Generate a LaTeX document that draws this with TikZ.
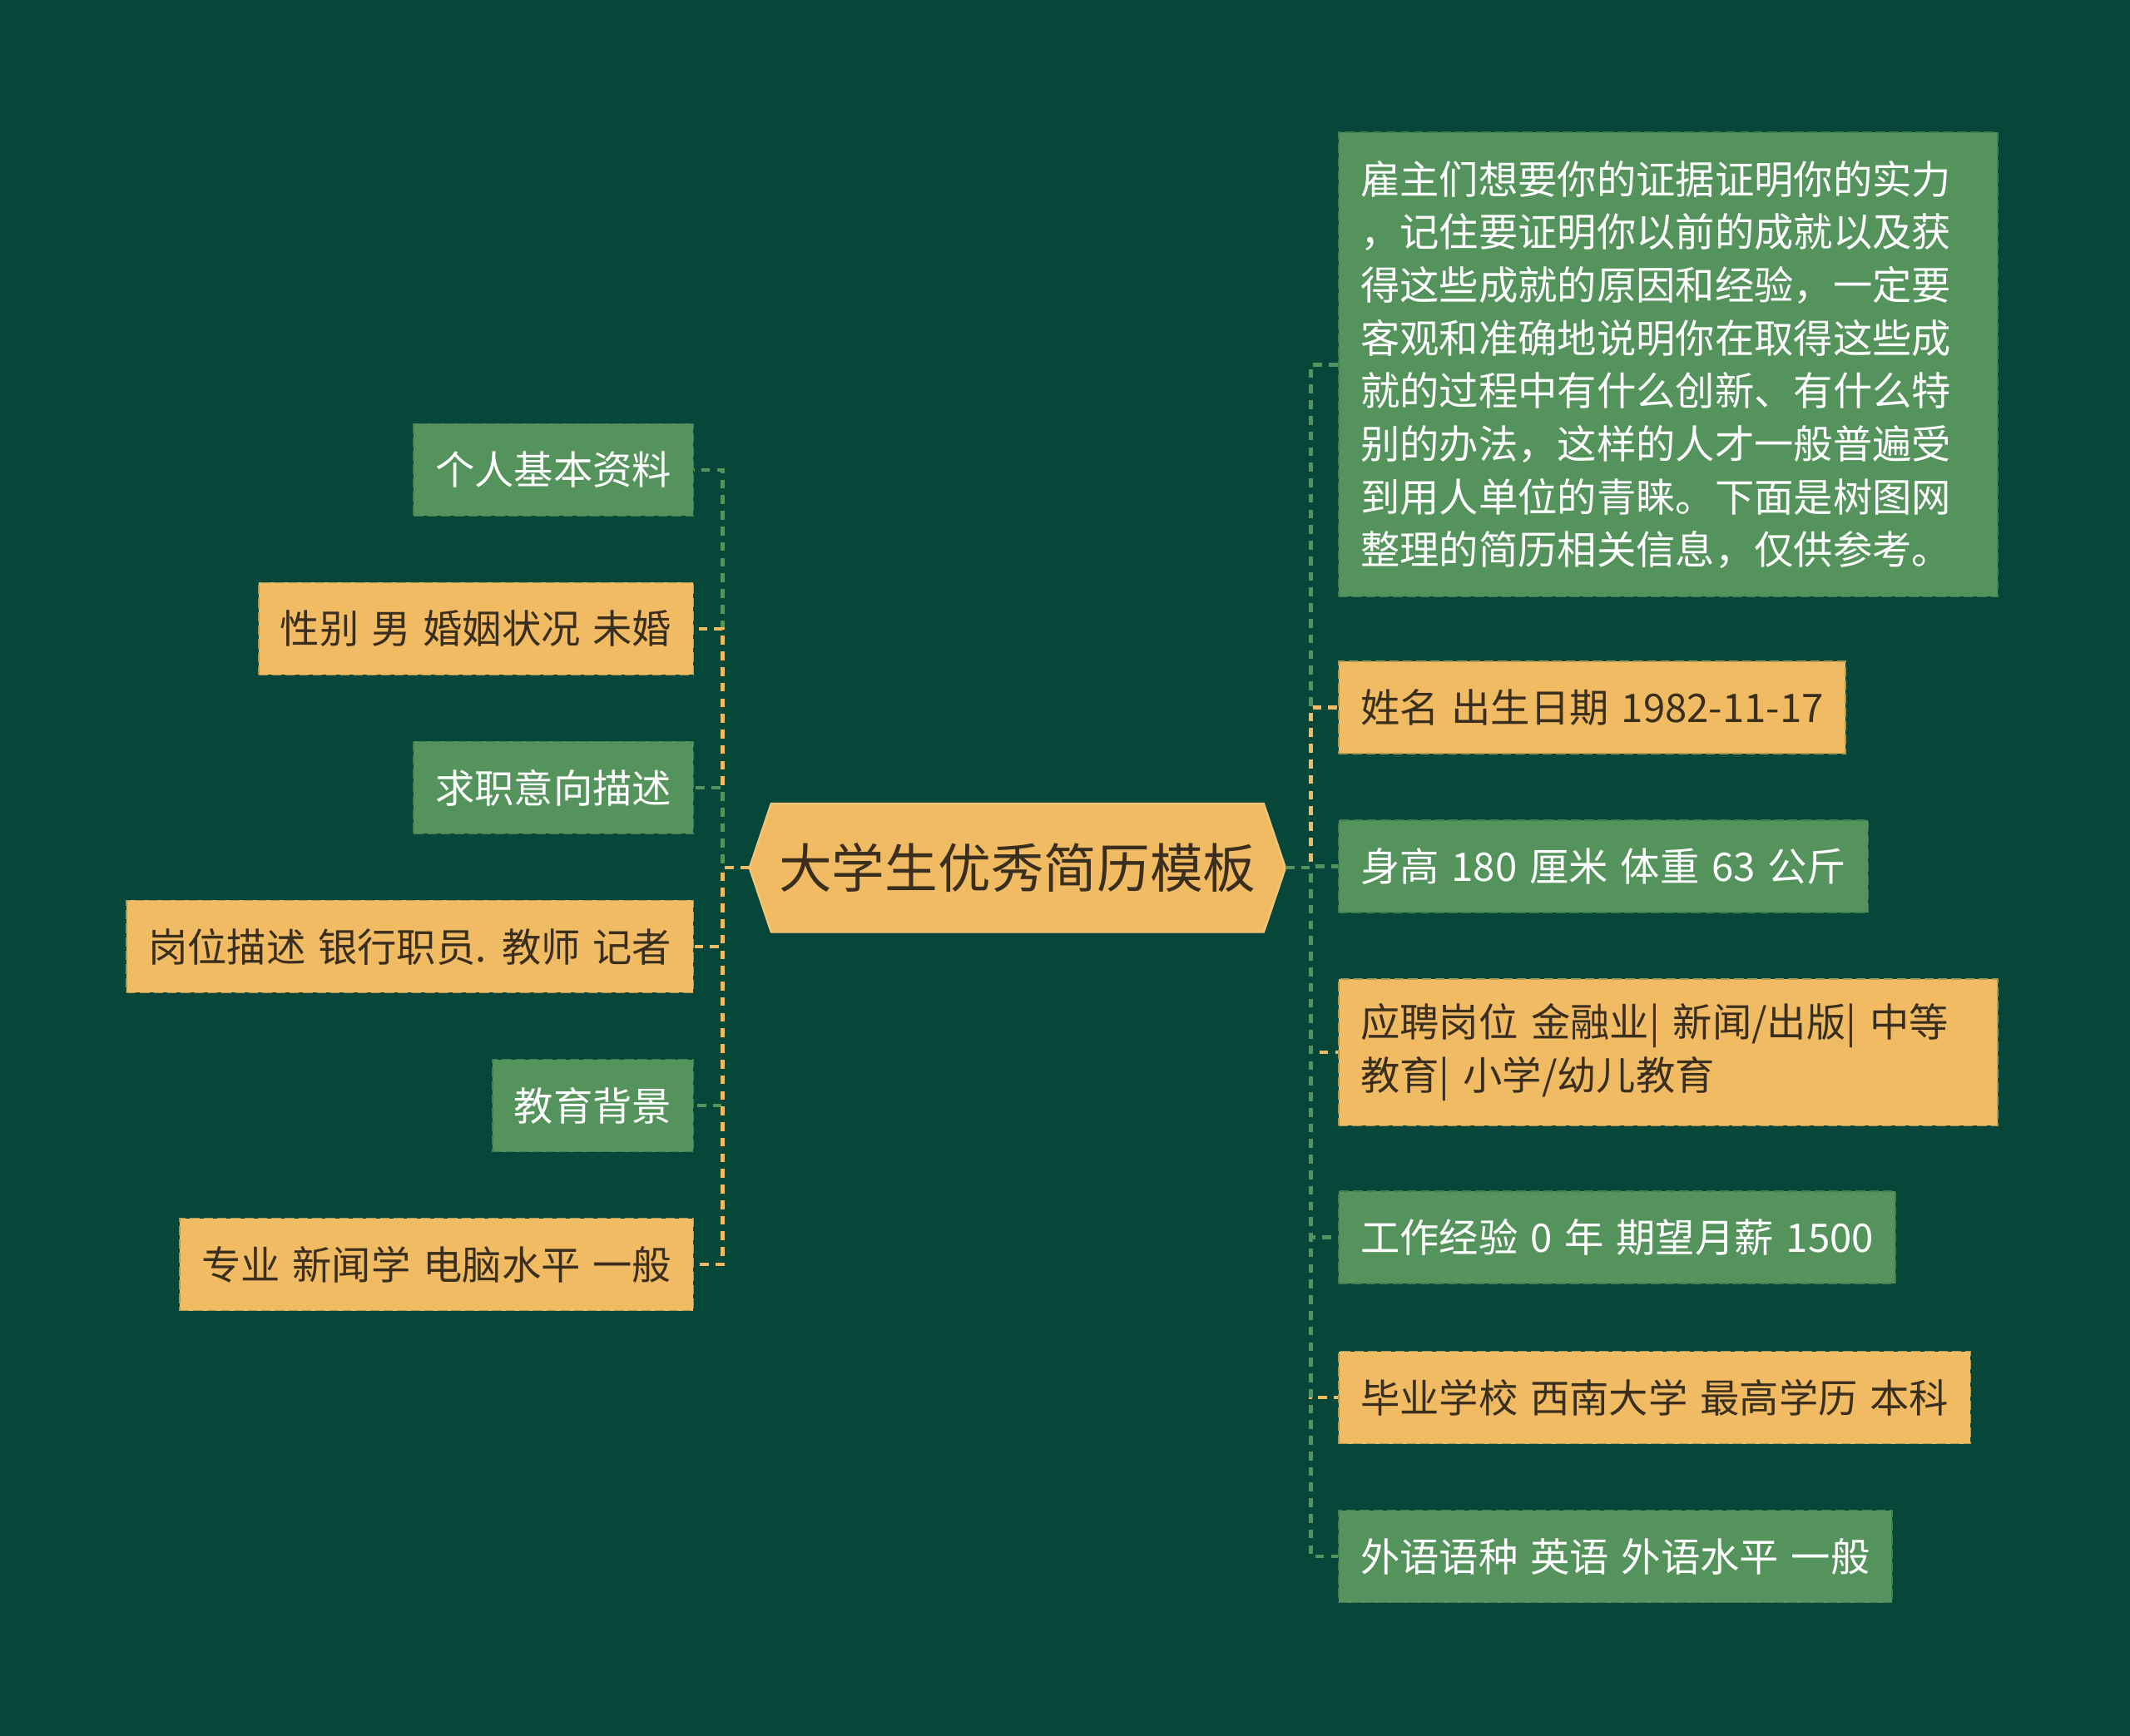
\documentclass[tikz,border=0pt]{standalone}
\usepackage{fontspec}
\setmainfont[WordSpace=1.4]{Noto Sans CJK SC}
\usetikzlibrary{backgrounds}

\definecolor{bgc}{HTML}{07473A}
\definecolor{greenc}{HTML}{55935C}
\definecolor{yellowc}{HTML}{F0BB62}
\definecolor{inkc}{HTML}{3A2F1F}

\tikzset{
  leaf/.style={font=\fontsize{16.5}{22.2}\selectfont, inner xsep=0.32cm, inner ysep=0pt,
    minimum height=1.36cm, align=left, line width=0.6pt, dash pattern=on 0.14cm off 0.06cm},
  gleaf/.style={leaf, fill=greenc, draw=greenc!75!bgc, text=white},
  yleaf/.style={leaf, fill=yellowc, draw=yellowc!70!bgc, text=inkc},
  rootbox/.style={font=\fontsize{22.2}{26}\selectfont, text=inkc, inner sep=0pt,
    minimum width=7.24cm, minimum height=1.88cm},
  link/.style={line width=1.5pt, dash pattern=on 0.13cm off 0.1cm}
}

\begin{document}
\begin{tikzpicture}[x=0.02cm, y=-0.02cm]
  \node (root) [rootbox] at (749, 639) {大学生优秀简历模板};
  \coordinate (rootL) at ([xshift=-0.32cm]root.west);
  \coordinate (rootR) at ([xshift=0.32cm]root.east);
  \coordinate (lspine) at (532, 639);
  \coordinate (rspine) at (965, 639);
  \begin{scope}[on background layer]
    \fill[bgc] (0, 0) rectangle (1568, 1278);
    \filldraw[fill=yellowc, draw=yellowc!85!white, line width=0.8pt] (rootL) -- (root.north west)
      -- (root.north east) -- (rootR) -- (root.south east) -- (root.south west) -- cycle;
  \end{scope}

  % left side
  \node (basic) [gleaf, anchor=east] at (511, 346) {个人基本资料};
  \node (gender) [yleaf, anchor=east] at (511, 463) {性别 男 婚姻状况 未婚};
  \node (intent) [gleaf, anchor=east] at (511, 580) {求职意向描述};
  \node (post) [yleaf, anchor=east] at (511, 697) {岗位描述 银行职员. 教师 记者};
  \node (edu) [gleaf, anchor=east] at (511, 814) {教育背景};
  \node (major) [yleaf, anchor=east] at (511, 931) {专业 新闻学 电脑水平 一般};

  % right side
  \node (intro) [gleaf, anchor=north west, text width=9.06cm, minimum height=6.84cm] at (985, 97)
    {雇主们想要你的证据证明你的实力\\，记住要证明你以前的成就以及获\\得这些成就的原因和经验，一定要\\客观和准确地说明你在取得这些成\\就的过程中有什么创新、有什么特\\别的办法，这样的人才一般普遍受\\到用人单位的青睐。下面是树图网\\整理的简历相关信息，仅供参考。};
  \node (name) [yleaf, anchor=west] at (985, 521) {姓名 出生日期 1982-11-17};
  \node (body) [gleaf, anchor=west] at (985, 638) {身高 180 厘米 体重 63 公斤};
  \node (apply) [yleaf, anchor=west, text width=9.06cm, minimum height=2.16cm] at (985, 775)
    {应聘岗位 金融业| 新闻/出版| 中等\\教育| 小学/幼儿教育};
  \node (work) [gleaf, anchor=west] at (985, 911) {工作经验 0 年 期望月薪 1500};
  \node (school) [yleaf, anchor=west] at (985, 1029) {毕业学校 西南大学 最高学历 本科};
  \node (lang) [gleaf, anchor=west] at (985, 1146) {外语语种 英语 外语水平 一般};

  % connectors, top to bottom
  \draw[link, greenc] (rootL) -- (rootL -| lspine) |- (basic.east);
  \draw[link, yellowc] (rootL) -- (rootL -| lspine) |- (gender.east);
  \draw[link, greenc] (rootL) -- (rootL -| lspine) |- (intent.east);
  \draw[link, yellowc] (rootL) -- (rootL -| lspine) |- (post.east);
  \draw[link, greenc] (rootL) -- (rootL -| lspine) |- (edu.east);
  \draw[link, yellowc] (rootL) -- (rootL -| lspine) |- (major.east);

  \draw[link, greenc] (rootR) -- (rootR -| rspine) |- (intro.west);
  \draw[link, yellowc] (rootR) -- (rootR -| rspine) |- (name.west);
  \draw[link, greenc] (rootR) -- (rootR -| rspine) |- (body.west);
  \draw[link, yellowc] (rootR) -- (rootR -| rspine) |- (apply.west);
  \draw[link, greenc] (rootR) -- (rootR -| rspine) |- (work.west);
  \draw[link, yellowc] (rootR) -- (rootR -| rspine) |- (school.west);
  \draw[link, greenc] (rootR) -- (rootR -| rspine) |- (lang.west);
\end{tikzpicture}
\end{document}
